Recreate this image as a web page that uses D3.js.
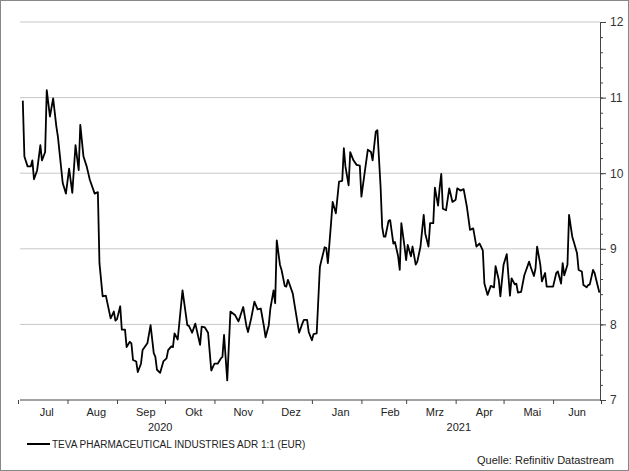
<!DOCTYPE html>
<html><head><meta charset="utf-8">
<script src="https://cdn.jsdelivr.net/npm/d3@7"></script>
<style>
body{margin:0;background:#fff;}
svg{font-family:"Liberation Sans",Arial,sans-serif;}
</style></head><body>
<svg width="629" height="471"></svg>
<script>
const width = 629, height = 471;
const svg = d3.select("svg");

// Data: days since 2020-07-01 and closing price (EUR)
const startDate = new Date(2020, 6, 1);
const days = [3,4,6,8,9,10,12,14,15,17,18,20,22,24,25,28,30,32,34,36,38,39,41,43,45,48,50,51,53,55,58,60,61,62,64,65,67,68,70,71,72,74,75,77,78,81,83,85,86,87,89,91,93,94,96,97,98,100,103,106,107,109,111,114,115,117,119,121,123,125,127,128,129,131,133,136,138,139,141,143,144,146,148,150,152,154,155,157,158,160,161,162,164,165,167,168,169,172,174,176,178,179,181,182,184,185,187,189,
190,192,193,194,196,197,199,201,203,204,205,207,208,210,212,214,215,217,219,221,222,224,225,227,228,229,230,232,233,235,236,238,239,240,242,243,244,246,247,249,250,252,254,255,257,258,260,261,263,264,265,266,268,270,272,274,275,277,279,281,283,285,287,289,291,292,294,296,298,299,301,302,304,306,308,309,311,312,313,315,317,320,321,323,324,325,327,328,330,331,333,335,337,338,340,341,342,344,345,347,348,350,351,353,354,356,357,358,360,361,362,364];
const prices = [10.96,10.22,10.09,10.09,10.17,9.92,10.04,10.37,10.17,10.28,11.10,10.75,10.99,10.62,10.48,9.87,9.73,10.06,9.74,10.37,10.04,10.64,10.22,10.09,9.91,9.73,9.75,8.81,8.37,8.38,8.08,8.17,8.05,8.07,8.24,7.93,7.93,7.70,7.77,7.75,7.53,7.51,7.37,7.48,7.66,7.75,7.99,7.62,7.57,7.40,7.36,7.51,7.55,7.66,7.71,7.70,7.88,7.80,8.45,7.99,7.98,7.89,8.01,7.73,7.97,7.96,7.89,7.39,7.48,7.48,7.55,7.57,7.86,7.26,8.17,8.12,8.04,8.10,8.23,7.98,7.90,8.08,8.30,8.20,8.21,7.97,7.83,7.99,8.21,8.45,8.28,9.11,8.79,8.72,8.51,8.50,8.59,8.41,8.15,7.89,8.01,8.06,8.06,7.90,7.79,7.87,7.88,8.76,
8.85,9.02,9.01,8.81,9.34,9.62,9.47,9.89,9.90,10.33,10.09,9.84,10.28,10.17,10.11,10.10,9.69,10.00,10.31,10.28,10.17,10.55,10.57,9.82,9.29,9.16,9.16,9.37,9.38,9.07,9.09,8.90,8.72,9.34,9.03,8.85,9.05,8.90,9.03,8.79,8.83,9.03,9.45,9.20,9.03,9.34,9.34,9.81,9.57,9.81,9.99,9.53,9.51,9.80,9.62,9.65,9.80,9.77,9.79,9.56,9.25,9.27,9.03,9.07,8.98,8.54,8.39,8.51,8.49,8.77,8.59,8.37,8.79,8.93,8.38,8.61,8.53,8.54,8.42,8.43,8.65,8.83,8.76,8.64,8.74,9.03,8.79,8.57,8.68,8.50,8.50,8.50,8.68,8.70,8.54,8.81,8.65,8.79,9.45,9.16,9.09,8.94,8.72,8.70,8.52,8.49,8.52,8.53,8.72,8.68,8.59,8.42,8.42];
const yTicks = [7, 8, 9, 10, 11, 12];
const monthLabels = ["Jul","Aug","Sep","Okt","Nov","Dez","Jan","Feb","Mrz","Apr","Mai","Jun"];
const years = [2020, 2021];
const seriesName = "TEVA PHARMACEUTICAL INDUSTRIES ADR 1:1 (EUR)";
const source = "Quelle: Refinitiv Datastream";

const data = days.map((d, i) => ({ date: d3.timeDay.offset(startDate, d), v: prices[i] }));

const x = d3.scaleTime().domain([startDate, new Date(2021, 6, 1)]).range([18, 601]);
const y = d3.scaleLinear().domain([7, 12]).range([400, 22]);

// outer frame
svg.append("rect").attr("x", 0.5).attr("y", 0.5).attr("width", width - 1).attr("height", height - 1)
  .attr("fill", "none").attr("stroke", "#888");

// gridlines
svg.append("g").selectAll("line").data(yTicks.slice(1)).join("line")
  .attr("x1", 20).attr("x2", 600).attr("y1", d => y(d)).attr("y2", d => y(d))
  .attr("stroke", "#c8c8c8").attr("stroke-width", 1);

// right axis
const yAxis = svg.append("g").attr("transform", "translate(600,0)")
  .call(d3.axisRight(y).tickValues(d3.range(7, 12.01, 0.2)).tickSize(3).tickFormat(""));
yAxis.select(".domain").attr("stroke", "#444");
yAxis.selectAll(".tick line").attr("stroke", "#444");
const yMaj = svg.append("g").attr("transform", "translate(600,0)")
  .call(d3.axisRight(y).tickValues(yTicks).tickSize(6).tickPadding(4).tickFormat(d3.format("d")));
yMaj.select(".domain").remove();
yMaj.selectAll(".tick line").attr("stroke", "#444");
yMaj.selectAll("text").attr("font-size", 12).attr("fill", "#333").attr("font-family", "Liberation Sans, Arial, sans-serif");

// bottom axis
const months = d3.timeMonth.range(startDate, new Date(2021, 6, 2));
const xAxis = svg.append("g").attr("transform", "translate(0,400)")
  .call(d3.axisBottom(x).tickValues(months).tickSize(4).tickFormat(""));
xAxis.select(".domain").attr("d", "M20,0H600").attr("stroke", "#444");
xAxis.selectAll(".tick line").attr("stroke", "#444");

svg.append("g").selectAll("text").data(months.slice(0, 12)).join("text")
  .attr("x", (d, i) => x(d3.timeDay.offset(d, i < 11 ? 18 : 15)))
  .attr("y", 416).attr("text-anchor", "middle").attr("font-size", 11).attr("fill", "#222")
  .text((d, i) => monthLabels[i]);

svg.append("g").selectAll("text").data(years).join("text")
  .attr("x", d => d === 2020 ? x(new Date(2020, 8, 28)) : x(new Date(2021, 3, 3)))
  .attr("y", 431).attr("text-anchor", "middle").attr("font-size", 11).attr("fill", "#222")
  .text(d => d);

// price line
svg.append("path").datum(data)
  .attr("fill", "none").attr("stroke", "#000").attr("stroke-width", 1.8).attr("stroke-linejoin", "round")
  .attr("d", d3.line().x(d => x(d.date)).y(d => y(d.v)));

// legend
svg.append("line").attr("x1", 27).attr("x2", 50).attr("y1", 444).attr("y2", 444)
  .attr("stroke", "#000").attr("stroke-width", 2);
svg.append("text").attr("x", 52).attr("y", 448).attr("font-size", 10).attr("fill", "#222").text(seriesName);
svg.append("text").attr("x", 614).attr("y", 464).attr("text-anchor", "end").attr("font-size", 11)
  .attr("fill", "#222").text(source);
</script>
</body></html>
